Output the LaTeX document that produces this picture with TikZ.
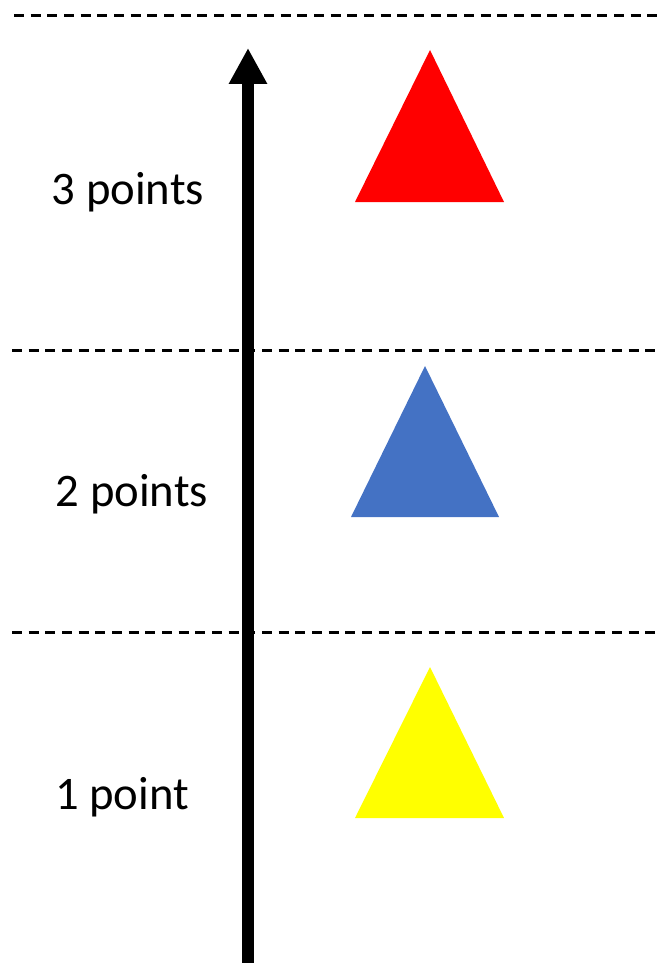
\documentclass[tikz,border=0pt]{standalone}
\usepackage{fontspec}
\setmainfont{Carlito}
\usepackage{tikz}
\usetikzlibrary{arrows.meta,positioning}
\definecolor{ptred}{HTML}{FF0000}
\definecolor{ptblue}{HTML}{4472C4}
\definecolor{ptyellow}{HTML}{FFFF00}
\begin{document}
\begin{tikzpicture}[x=0.75pt,y=-0.75pt,
  sep/.style={line width=2.25pt,dash pattern=on 7.5pt off 5pt},
  lvl/.style={font=\fontsize{35}{42}\selectfont,inner sep=0pt},
  tri/.style={draw=none}]
\useasboundingbox (0,0) rectangle (659,963);
% level separators
\draw[sep] (14,16)--(659,16);
\draw[sep] (12,350)--(659,350);
\draw[sep] (12,632)--(659,632);
% axis
\coordinate (bot) at (248,963);
\coordinate (top) at (248,48);
\draw[line width=9pt,-{Triangle[length=27pt,width=27pt]}] (bot)--(top);
% labels
\node[lvl] (three) at (128,192) {3 points};
\node[lvl] (two) at (132,494) {2 points};
\node[lvl] (one) at (122,797) {1 point};
% markers
\fill[ptred] (430,50)--(504,202)--(355,202)--cycle;
\fill[ptblue] (425,366)--(499,517)--(351,517)--cycle;
\fill[ptyellow] (430,667)--(504,818)--(355,818)--cycle;
\end{tikzpicture}
\end{document}
